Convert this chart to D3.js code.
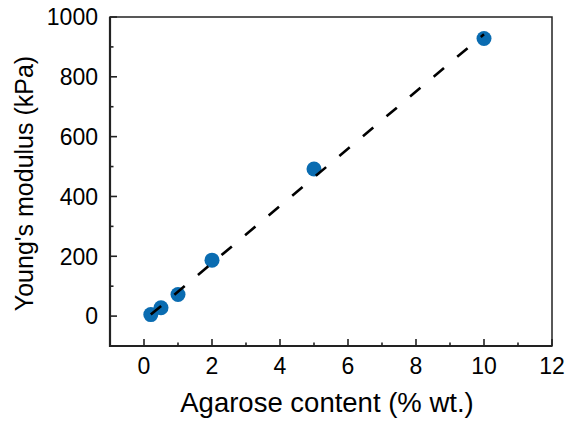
<!doctype html>
<html>
<head>
	<meta charset="utf-8">
	<title></title>
	<style>

		body {
			margin: 0;
			background: #fff;
		}

		text {
			font-family: "Liberation Sans", Arial, sans-serif;
			fill: #000;
		}

		.frame {
			fill: none;
			stroke: #222;
			stroke-width: 1.5;
		}

		.tick-line {
			stroke: #222;
			stroke-width: 1.6;
		}

		.fit {
			fill: none;
			stroke: #000;
			stroke-width: 2.6;
			stroke-dasharray: 13.5, 17.3;
		}

		.dot {
			fill: #0a6cb1;
		}

	</style>
</head>
<body>

	<svg width="568" height="425"></svg>

	<script src="https://d3js.org/d3.v7.min.js"></script>
	<script>

		// measured points
		const agarose = [ 0.2, 0.5, 1, 2, 5, 10 ];
		const modulus = [ 5, 28, 72, 187, 492, 928 ];

		// linear fit end points
		const fit_x = [ 0.2, 10 ];
		const fit_y = [ 5, 942 ];

		const x_ticks = [ 0, 2, 4, 6, 8, 10, 12 ];
		const x_minor = [ 1, 3, 5, 7, 9, 11 ];
		const y_ticks = [ 0, 200, 400, 600, 800, 1000 ];
		const y_minor = [ -100, 100, 300, 500, 700, 900 ];

		const svg = d3.select( "svg" );

		const margin = { top: 17, right: 16, bottom: 79, left: 110 };
		const width = +svg.attr( "width" ) - margin.left - margin.right,
			height = +svg.attr( "height" ) - margin.top - margin.bottom;

		const x = d3.scaleLinear()
				.domain( [ -1, 12 ] )
				.range( [ 0, width ] );

		const y = d3.scaleLinear()
				.domain( [ -100, 1000 ] )
				.range( [ height, 0 ] );

		const g = svg.append( "g" )
				.attr( "transform", "translate(" + margin.left + "," + margin.top + ")" );

		// box
		g.append( "rect" )
				.attr( "class", "frame" )
				.attr( "width", width )
				.attr( "height", height );

		g.append( "path" )
				.attr( "class", "frame" )
				.style( "stroke-width", 2.2 )
				.attr( "d", "M0,0V" + height + "H" + width );

		// x ticks, pointing inside
		g.selectAll( ".x-major" )
			.data( x_ticks )
			.enter().append( "line" )
				.attr( "class", "tick-line" )
				.attr( "x1", d => x( d ) )
				.attr( "x2", d => x( d ) )
				.attr( "y1", height )
				.attr( "y2", height - 7 );

		g.selectAll( ".x-minor" )
			.data( x_minor )
			.enter().append( "line" )
				.attr( "class", "tick-line" )
				.attr( "x1", d => x( d ) )
				.attr( "x2", d => x( d ) )
				.attr( "y1", height )
				.attr( "y2", height - 3.5 );

		g.selectAll( ".x-label" )
			.data( x_ticks )
			.enter().append( "text" )
				.attr( "x", d => x( d ) )
				.attr( "y", height + 28 )
				.attr( "text-anchor", "middle" )
				.style( "font-size", "23px" )
				.text( d => d );

		// y ticks
		g.selectAll( ".y-major" )
			.data( y_ticks )
			.enter().append( "line" )
				.attr( "class", "tick-line" )
				.attr( "x1", 0 )
				.attr( "x2", 7 )
				.attr( "y1", d => y( d ) )
				.attr( "y2", d => y( d ) );

		g.selectAll( ".y-minor" )
			.data( y_minor )
			.enter().append( "line" )
				.attr( "class", "tick-line" )
				.attr( "x1", 0 )
				.attr( "x2", 3.5 )
				.attr( "y1", d => y( d ) )
				.attr( "y2", d => y( d ) );

		g.selectAll( ".y-label" )
			.data( y_ticks )
			.enter().append( "text" )
				.attr( "x", -12 )
				.attr( "y", d => y( d ) )
				.attr( "dy", "0.36em" )
				.attr( "text-anchor", "end" )
				.style( "font-size", "23px" )
				.text( d => d );

		// axis titles
		svg.append( "text" )
				.attr( "x", 327 )
				.attr( "y", 412 )
				.attr( "text-anchor", "middle" )
				.style( "font-size", "27.5px" )
				.text( "Agarose content (% wt.)" );

		svg.append( "text" )
				.attr( "transform", "translate(33," + ( margin.top + height / 2 + 2 ) + ") rotate(-90)" )
				.attr( "text-anchor", "middle" )
				.style( "font-size", "25px" )
				.text( "Young's modulus (kPa)" );

		// points
		g.selectAll( ".dot" )
			.data( agarose )
			.enter().append( "circle" )
				.attr( "class", "dot" )
				.attr( "r", 7.5 )
				.attr( "cx", d => x( d ) )
				.attr( "cy", ( d, i ) => y( modulus[ i ] ) );

		// fit line on top
		const line = d3.line()
				.x( d => x( d[0] ) )
				.y( d => y( d[1] ) );

		g.append( "path" )
				.datum( fit_x.map( ( d, i ) => [ d, fit_y[ i ] ] ) )
				.attr( "class", "fit" )
				.attr( "d", line );

	</script>

</body>
</html>
